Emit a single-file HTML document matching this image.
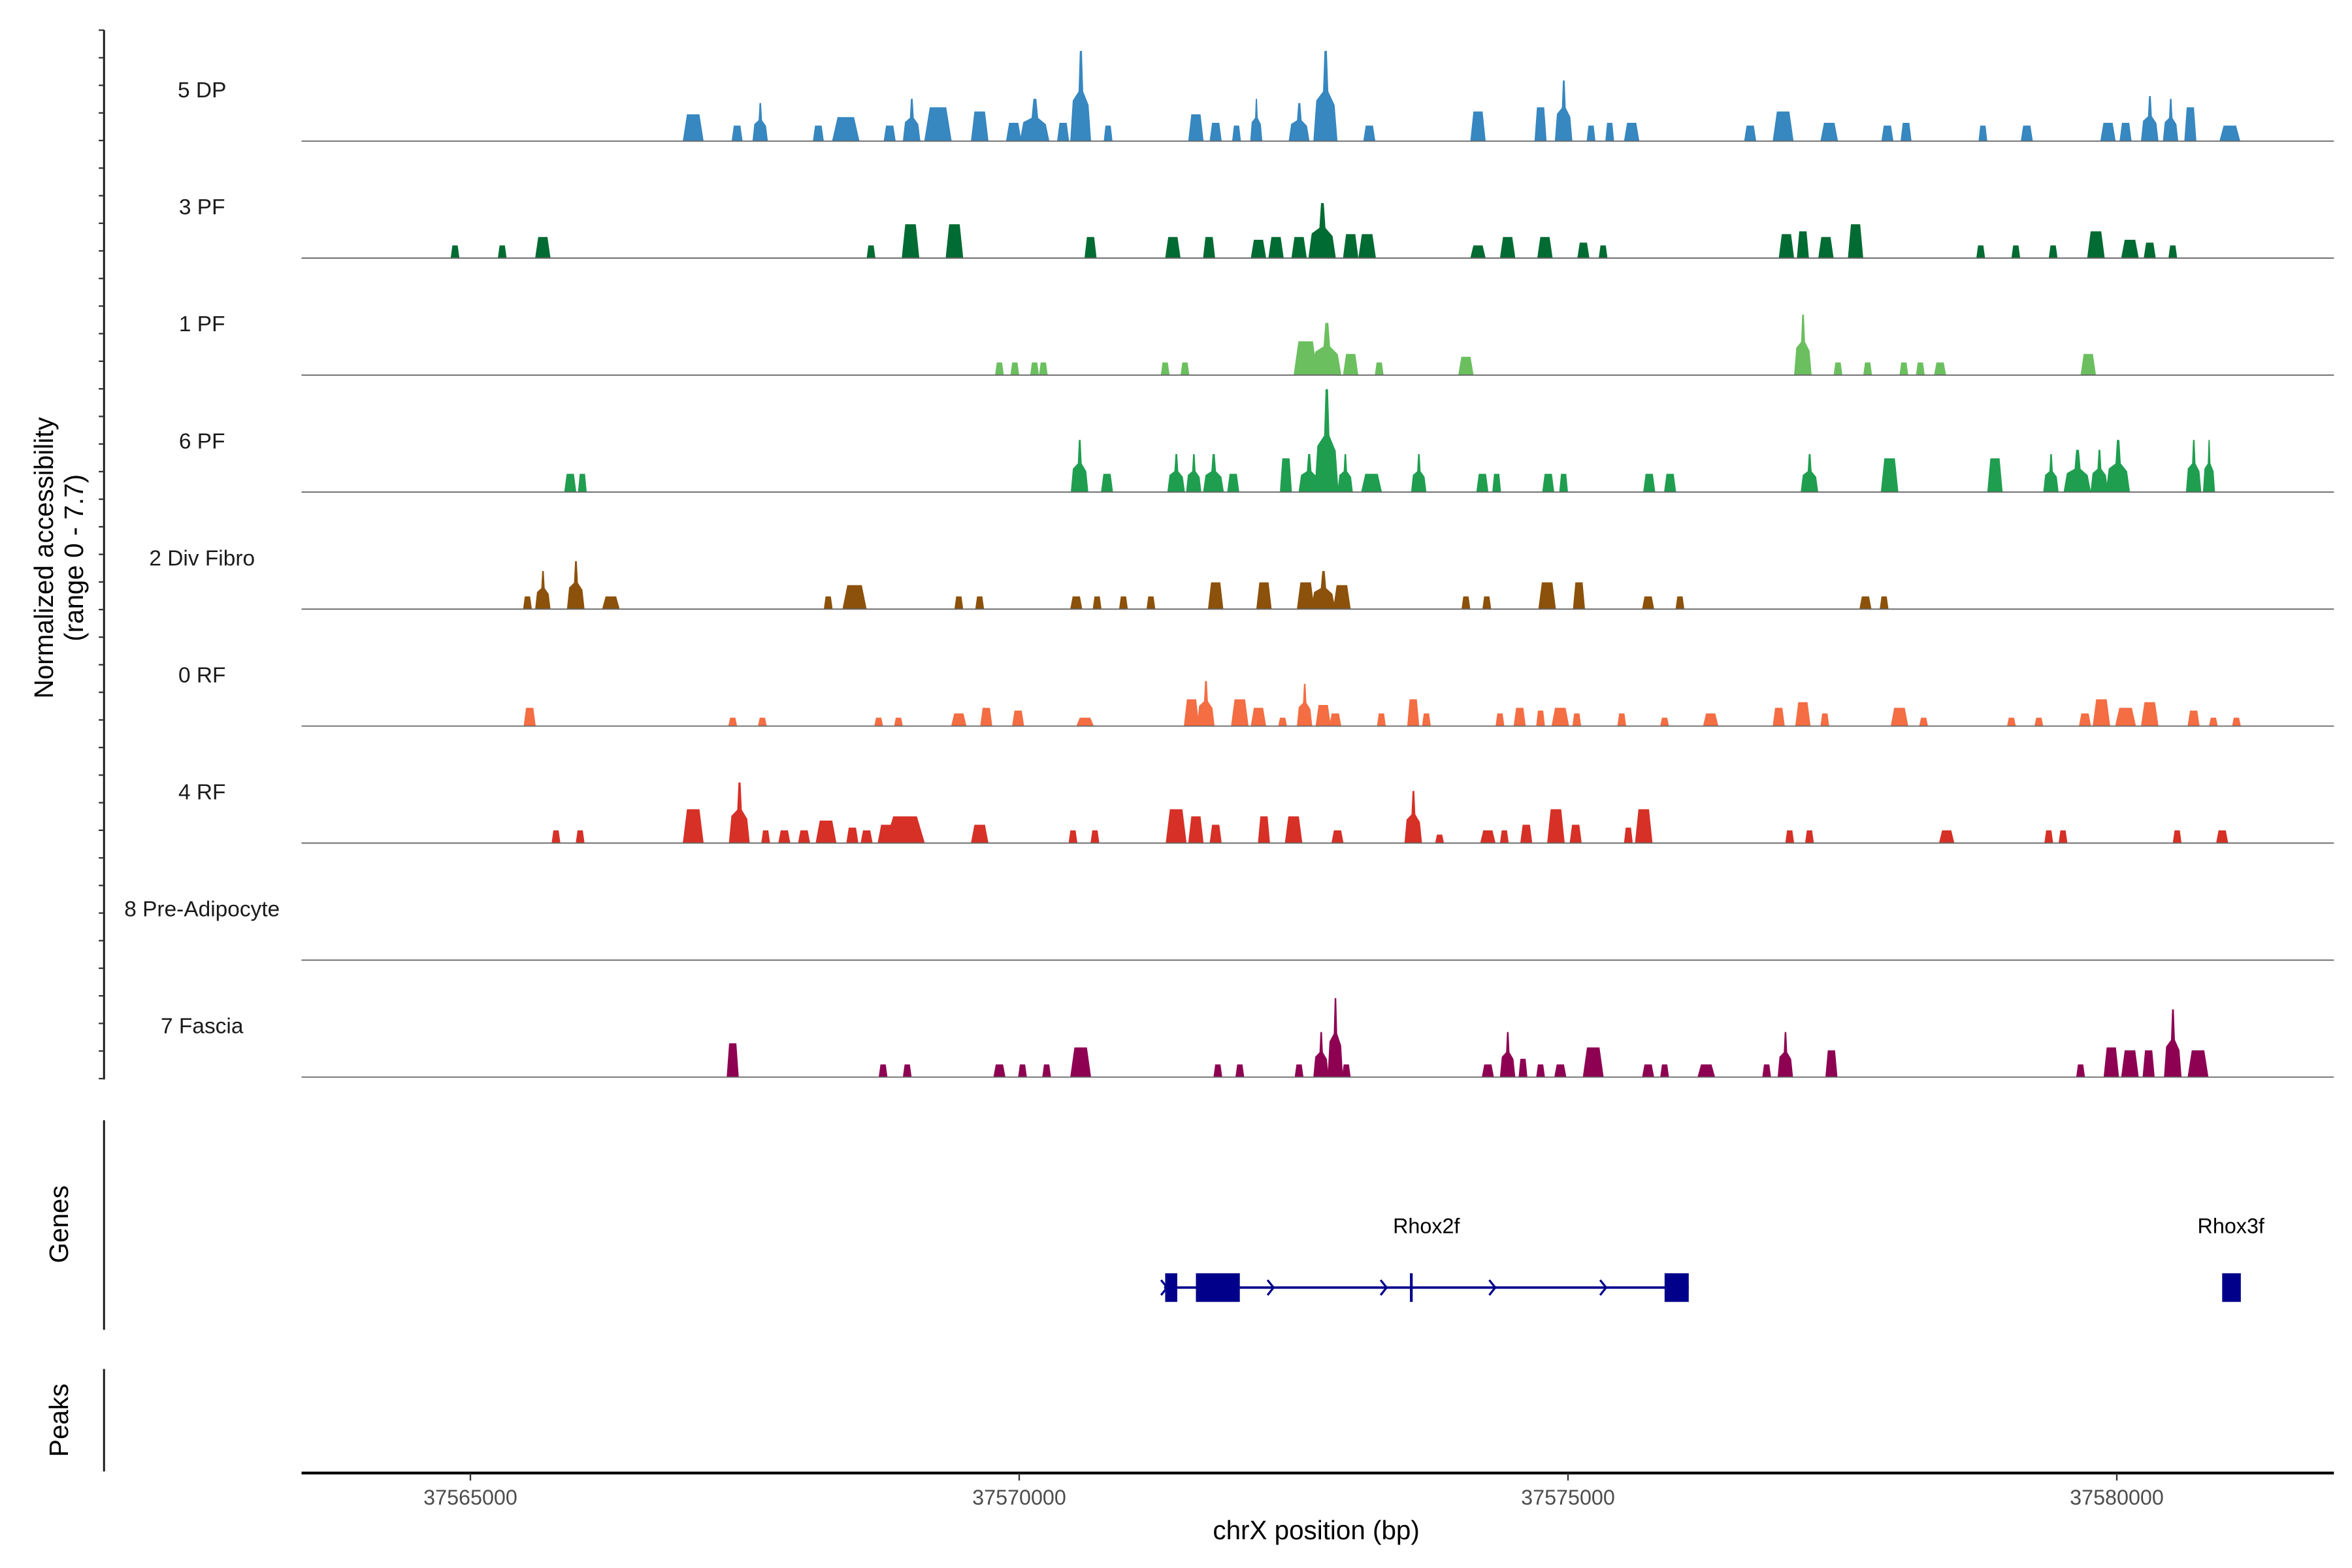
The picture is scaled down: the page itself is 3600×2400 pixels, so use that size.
<!DOCTYPE html>
<html><head><meta charset="utf-8"><style>
html,body{margin:0;padding:0;background:#fff;}
svg{display:block;font-family:"Liberation Sans",Arial,sans-serif;}
</style></head><body>
<svg id="chart" width="3600" height="2400" viewBox="0 0 1560 1040" xmlns="http://www.w3.org/2000/svg"></svg>
<script>
// positions: kb offset from 37565000; widths in kb; heights in accessibility units
const trackNames = ["5 DP","3 PF","1 PF","6 PF","2 Div Fibro","0 RF","4 RF","8 Pre-Adipocyte","7 Fascia"];
const trackColors = ["#3787c0","#006b32","#6bbf5f","#1f9e50","#8c510a","#f46d43","#d73027","#888888","#8e0152"];
const xTicks = [37565000,37570000,37575000,37580000];
const peaksDP = [[2.03,.19,1.9],[2.43,.10,1.1],[2.64,.14,2.7],[3.17,.10,1.1],[3.42,.25,1.7],[3.82,.11,1.1],[4.02,.16,3.0],[4.26,.25,2.4],[4.64,.16,2.1],[4.95,.14,1.3],[5.14,.27,3.0],[5.40,.11,1.3],[5.56,.19,6.4],[5.81,.08,1.1],[6.61,.14,1.9],[6.79,.11,1.3],[6.98,.08,1.1],[7.16,.11,3.0],[7.55,.19,2.7],[7.79,.22,6.4],[8.19,.11,1.1],[9.18,.14,2.1],[9.75,.11,2.4],[9.96,.16,4.3],[10.21,.08,1.1],[10.38,.08,1.3],[10.58,.14,1.3],[11.66,.11,1.1],[11.96,.19,2.1],[12.38,.16,1.3],[12.91,.11,1.1],[13.08,.10,1.3],[13.78,.08,1.1],[14.18,.11,1.1],[14.92,.14,1.3],[15.08,.11,1.3],[15.30,.16,3.2],[15.49,.14,3.0],[15.67,.11,2.4],[16.03,.19,1.1]];
const peaks3PF = [[-0.14,.08,.9],[0.29,.08,.9],[0.66,.14,1.5],[3.65,.08,.9],[4.01,.16,2.4],[4.41,.16,2.4],[5.65,.11,1.5],[6.40,.14,1.5],[6.73,.11,1.5],[7.18,.14,1.3],[7.34,.14,1.5],[7.55,.14,1.5],[7.76,.25,3.9],[8.02,.14,1.7],[8.17,.16,1.7],[9.18,.14,.9],[9.45,.14,1.5],[9.79,.14,1.5],[10.14,.11,1.1],[10.32,.08,.9],[11.99,.14,1.7],[12.14,.11,1.9],[12.35,.14,1.5],[12.62,.14,2.4],[13.76,.08,.9],[14.08,.08,.9],[14.42,.08,.9],[14.81,.16,1.9],[15.12,.16,1.3],[15.30,.11,1.1],[15.51,.08,.9]];
const peaks1PF = [[4.82,.08,.9],[4.96,.08,.9],[5.14,.08,.9],[5.22,.08,.9],[6.33,.08,.9],[6.51,.08,.9],[7.61,.22,2.4],[7.80,.27,3.7],[8.02,.14,1.5],[8.28,.08,.9],[9.07,.14,1.3],[12.14,.16,4.3],[12.46,.08,.9],[12.73,.08,.9],[13.06,.08,.9],[13.21,.08,.9],[13.39,.11,.9],[14.74,.14,1.5]];
const peaks6PF = [[0.91,.11,1.3],[1.02,.08,1.3],[5.55,.16,3.7],[5.80,.11,1.3],[6.43,.16,2.7],[6.59,.14,2.7],[6.77,.19,2.7],[6.95,.11,1.3],[7.43,.11,2.4],[7.64,.19,2.7],[7.80,.22,7.3],[7.97,.14,2.7],[8.21,.19,1.3],[8.64,.14,2.7],[9.22,.11,1.3],[9.35,.08,1.3],[9.82,.11,1.3],[9.96,.08,1.3],[10.74,.11,1.3],[10.93,.11,1.3],[12.20,.16,2.7],[12.93,.16,2.4],[13.89,.14,2.4],[14.40,.14,2.7],[14.64,.25,3.0],[14.84,.16,3.0],[15.01,.22,3.7],[15.70,.14,3.7],[15.84,.11,3.7]];
const peaksDiv = [[0.52,.08,.9],[0.66,.14,2.7],[0.96,.16,3.4],[1.28,.16,.9],[3.26,.08,.9],[3.50,.22,1.7],[4.45,.08,.9],[4.64,.08,.9],[5.52,.11,.9],[5.71,.08,.9],[5.95,.08,.9],[6.20,.08,.9],[6.79,.14,1.9],[7.23,.14,1.9],[7.61,.16,1.9],[7.77,.22,2.7],[7.94,.16,1.7],[9.07,.08,.9],[9.26,.08,.9],[9.81,.16,1.9],[10.10,.11,1.9],[10.73,.11,.9],[11.02,.08,.9],[12.71,.11,.9],[12.88,.08,.9]];
const peaks0RF = [[0.54,.11,1.3],[2.39,.08,.6],[2.66,.08,.6],[3.72,.08,.6],[3.90,.08,.6],[4.45,.14,.9],[4.70,.11,1.3],[4.99,.11,1.1],[5.60,.16,.6],[6.57,.14,1.9],[6.70,.16,3.2],[7.01,.16,1.9],[7.18,.14,1.3],[7.40,.08,.6],[7.60,.14,3.0],[7.77,.14,1.5],[7.88,.11,.9],[8.30,.08,.9],[8.59,.11,1.9],[8.71,.08,.9],[9.38,.08,.9],[9.56,.11,1.3],[9.75,.08,1.1],[9.93,.16,1.3],[10.08,.08,.9],[10.49,.08,.9],[10.88,.08,.6],[11.30,.14,.9],[11.92,.11,1.3],[12.14,.14,1.7],[12.34,.08,.9],[13.02,.16,1.3],[13.24,.08,.6],[14.04,.08,.6],[14.29,.08,.6],[14.71,.11,.9],[14.86,.16,1.9],[15.08,.19,1.3],[15.30,.16,1.7],[15.70,.11,1.1],[15.88,.08,.6],[16.09,.08,.6]];
const peaks4RF = [[0.78,.08,.9],[1.00,.08,.9],[2.03,.19,2.4],[2.45,.19,4.3],[2.69,.08,.9],[2.86,.11,.9],[3.04,.11,.9],[3.24,.19,1.6],[3.48,.11,1.1],[3.61,.11,.9],[3.79,.16,1.3],[3.96,.36,1.9],[4.64,.16,1.3],[5.49,.08,.9],[5.69,.08,.9],[6.43,.19,2.4],[6.61,.14,1.9],[6.79,.11,1.3],[7.23,.11,1.9],[7.50,.16,1.9],[7.90,.11,.9],[8.59,.16,3.7],[8.83,.08,.6],[9.27,.14,.9],[9.42,.08,.9],[9.62,.11,1.3],[9.89,.16,2.4],[10.07,.11,1.3],[10.55,.08,1.1],[10.69,.16,2.4],[12.02,.08,.9],[12.20,.08,.9],[13.45,.14,.9],[14.38,.08,.9],[14.51,.08,.9],[15.55,.08,.9],[15.96,.11,.9]];
const peaksPre = [];
const peaksFascia = [[2.39,.11,2.4],[3.76,.08,.9],[3.98,.08,.9],[4.82,.11,.9],[5.03,.08,.9],[5.25,.08,.9],[5.56,.19,2.1],[6.81,.08,.9],[7.01,.08,.9],[7.55,.08,.9],[7.75,.14,3.2],[7.88,.14,5.6],[7.98,.08,.9],[9.27,.11,.9],[9.45,.14,3.2],[9.59,.08,1.3],[9.75,.08,.9],[9.93,.11,.9],[10.23,.19,2.1],[10.73,.11,.9],[10.88,.08,.9],[11.26,.16,.9],[11.81,.08,.9],[11.98,.14,3.2],[12.40,.11,1.9],[14.67,.08,.9],[14.95,.14,2.1],[15.12,.16,1.9],[15.29,.11,1.9],[15.51,.16,4.8],[15.74,.19,1.9]];
const allPeaks = [peaksDP,peaks3PF,peaks1PF,peaks6PF,peaksDiv,peaks0RF,peaks4RF,peaksPre,peaksFascia];
// gene model (kb offsets)
const geneStart = 6.32, geneEnd = 11.10;
const exons = [[6.33,6.44],[6.61,7.01],[8.56,8.585],[10.88,11.10]];
const geneArrows = [6.32,7.29,8.32,9.31,10.32];
const gene2Exons = [[15.96,16.13]];
const geneLabels = [["Rhox2f",8.71],["Rhox3f",16.04]];

const svg = document.getElementById('chart');
const NS = 'http://www.w3.org/2000/svg';
const X0 = 312, PXKB = 72.8, TOP = 16, TRACKH = 77.6, UNIT = 9.35;
const xs = kb => X0 + kb * PXKB;
const xbp = bp => xs((bp - 37565000) / 1000);
function el(tag, attrs, parent){const e=document.createElementNS(NS,tag);for(const k in attrs)e.setAttribute(k,attrs[k]);(parent||svg).appendChild(e);return e;}
function txt(s, attrs){const t=el('text',attrs);t.textContent=s;return t;}

// left axis
let ax = el('line',{x1:69,y1:20,x2:69,y2:716,stroke:'#1a1a1a','stroke-width':1.3});


for(let y=20;y<=716;y+=18.3){
  const t = el('line',{x1:65.5,y1:y,x2:69,y2:y,stroke:'#333','stroke-width':1});
  
  
}
let yt = txt('Normalized accessibility',{x:0,y:0,'font-size':17.5,'text-anchor':'middle',transform:'translate(35,370) rotate(-90)'});


let yt2 = txt('(range 0 - 7.7)',{x:0,y:0,'font-size':17.5,'text-anchor':'middle',transform:'translate(55,370) rotate(-90)'});



allPeaks.forEach((peaks,i)=>{
  const base = TOP + TRACKH*(i+1);
  const g = el('g',{});
  
  
  const lab = txt(trackNames[i],{x:134,y:base-29,'font-size':14.5,'text-anchor':'middle',fill:'#1a1a1a'});
  
  
  peaks.forEach(p=>{
    const c = xs(p[0]), w = p[1]*PXKB, h = p[2]*UNIT;
    const x0=c-w/2, x1=c+w/2;
    let pts;
    if(h>25){
      pts=[[x0,base],[x0+w*0.12,base-h*0.45],[c-w*0.1,base-h*0.55],[c-w*0.04,base-h],[c+w*0.06,base-h],[c+w*0.12,base-h*0.55],[x1-w*0.12,base-h*0.4],[x1,base]];
    } else {
      pts=[[x0,base],[x0+w*0.2,base-h],[x1-w*0.2,base-h],[x1,base]];
    }
    const poly = el('polygon',{points:pts.map(q=>q[0].toFixed(2)+','+q[1].toFixed(2)).join(' '),fill:trackColors[i]},g);
    
    
  });
  const bl = el('line',{x1:200,y1:base,x2:1548,y2:base,stroke:'#666','stroke-width':0.8},g);
  
  
});

// genes panel
let gl = el('line',{x1:69,y1:743,x2:69,y2:882,stroke:'#1a1a1a','stroke-width':1.3});


let gt = txt('Genes',{x:0,y:0,'font-size':17.5,'text-anchor':'middle',transform:'translate(45,812) rotate(-90)'});


const GY = 854;
let intr = el('line',{x1:xs(geneStart),y1:GY,x2:xs(geneEnd),y2:GY,stroke:'#00008b','stroke-width':1.6});


exons.concat(gene2Exons).forEach(e=>{
  const w = Math.max(1.5,xs(e[1])-xs(e[0]));
  const r = el('rect',{x:xs(e[0]),y:GY-9.5,width:w,height:19,fill:'#00008b'});
  
  
});
geneArrows.forEach(a=>{
  const x=xs(a);
  const p = el('polyline',{points:`${x-2},${GY-5} ${x+2},${GY} ${x-2},${GY+5}`,fill:'none',stroke:'#00008b','stroke-width':1.4});
  
  
});
geneLabels.forEach(l=>{
  const t = txt(l[0],{x:xs(l[1]),y:818,'font-size':14,'text-anchor':'middle',fill:'#000'});
  
  
});

// peaks panel
let pl = el('line',{x1:69,y1:908,x2:69,y2:976,stroke:'#1a1a1a','stroke-width':1.3});


let pt = txt('Peaks',{x:0,y:0,'font-size':17.5,'text-anchor':'middle',transform:'translate(45,942) rotate(-90)'});



// x axis
let xa = el('line',{x1:200,y1:977,x2:1548,y2:977,stroke:'#000','stroke-width':1.8});


xTicks.forEach(v=>{
  const x = xbp(v);
  const t = el('line',{x1:x,y1:977,x2:x,y2:982,stroke:'#333','stroke-width':1});
  
  
  const l = txt(String(v),{x:x,y:998,'font-size':14,'text-anchor':'middle',fill:'#4d4d4d'});
  
  
});
let xt = txt('chrX position (bp)',{x:873,y:1021,'font-size':17.5,'text-anchor':'middle',fill:'#000'});


</script>
</body></html>
